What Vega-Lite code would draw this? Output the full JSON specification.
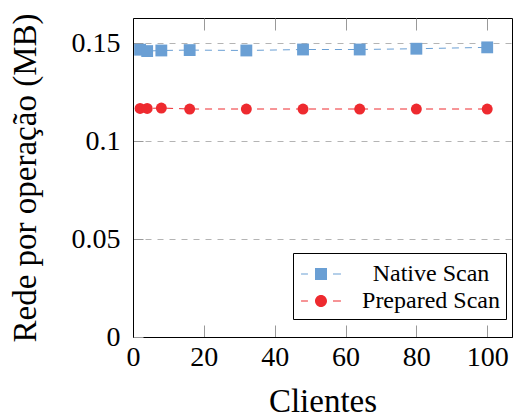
{
  "$schema": "https://vega.github.io/schema/vega-lite/v6.json",
  "width": 379,
  "height": 319,
  "autosize": {"type": "none"},
  "padding": {"left": 133, "top": 18, "right": 1, "bottom": 80},
  "background": "white",
  "config": {
    "view": {"stroke": "black", "strokeWidth": 1},
    "font": "Liberation Serif",
    "legend": {
      "orient": "none",
      "legendX": 160,
      "legendY": 235,
      "labelFont": "Liberation Serif",
      "labelFontSize": 24,
      "labelColor": "black",
      "labelAlign": "center",
      "padding": 6,
      "strokeColor": "black",
      "fillColor": "white",
      "symbolSize": 900,
      "symbolOffset": 7,
      "labelOffset": 95,
      "rowPadding": 0
    }
  },
  "data": {
    "values": [
      {"clients": 2, "series": "Native Scan", "value": 0.1468},
      {"clients": 4, "series": "Native Scan", "value": 0.1461},
      {"clients": 8, "series": "Native Scan", "value": 0.1464},
      {"clients": 16, "series": "Native Scan", "value": 0.1466},
      {"clients": 32, "series": "Native Scan", "value": 0.1464},
      {"clients": 48, "series": "Native Scan", "value": 0.1469},
      {"clients": 64, "series": "Native Scan", "value": 0.1469},
      {"clients": 80, "series": "Native Scan", "value": 0.1473},
      {"clients": 100, "series": "Native Scan", "value": 0.148},
      {"clients": 2, "series": "Prepared Scan", "value": 0.1168},
      {"clients": 4, "series": "Prepared Scan", "value": 0.1168},
      {"clients": 8, "series": "Prepared Scan", "value": 0.117},
      {"clients": 16, "series": "Prepared Scan", "value": 0.1165},
      {"clients": 32, "series": "Prepared Scan", "value": 0.1165},
      {"clients": 48, "series": "Prepared Scan", "value": 0.1165},
      {"clients": 64, "series": "Prepared Scan", "value": 0.1165},
      {"clients": 80, "series": "Prepared Scan", "value": 0.1165},
      {"clients": 100, "series": "Prepared Scan", "value": 0.1165}
    ]
  },
  "encoding": {
    "y": {
      "field": "value",
      "type": "quantitative",
      "scale": {"domain": [0, 0.163], "nice": false, "zero": false},
      "axis": {
        "title": "Rede por operação (MB)",
        "values": [0, 0.05, 0.1, 0.15],
        "format": "~g",
        "labelFlush": false,
        "grid": true,
        "gridDash": [6, 6],
        "gridColor": "#b4b4b4",
        "gridWidth": 1,
        "tickSize": -10,
        "tickColor": "#999999",
        "labelPadding": 23,
        "labelFontSize": 28,
        "labelColor": "black",
        "labelFont": "Liberation Serif",
        "titleFont": "Liberation Serif",
        "titleFontSize": 33,
        "titleFontWeight": "normal",
        "titleColor": "black",
        "titlePadding": 29,
        "domainColor": "black"
      }
    },
    "color": {
      "field": "series",
      "type": "nominal",
      "scale": {"domain": ["Native Scan", "Prepared Scan"], "range": ["#6a9fd4", "#ee2a2f"]},
      "legend": {
        "title": null,
        "encode": {
          "symbols": {
            "update": {
              "shape": {"signal": "datum.value == 'Native Scan' ? 'M-1.33,-0.04L-0.87,-0.04L-0.87,0.04L-1.33,0.04Z M-0.4,-0.4L0.4,-0.4L0.4,0.4L-0.4,0.4Z M0.8,-0.04L1.33,-0.04L1.33,0.04L0.8,0.04Z' : 'M-1.33,-0.04L-0.87,-0.04L-0.87,0.04L-1.33,0.04Z M0.4,0A0.4,0.4,0,1,1,-0.4,0A0.4,0.4,0,1,1,0.4,0Z M0.8,-0.04L1.33,-0.04L1.33,0.04L0.8,0.04Z'"},
              "fill": {"scale": "color", "field": "value"},
              "stroke": {"value": "transparent"},
              "strokeWidth": {"value": 0},
              "opacity": {"value": 1},
              "fillOpacity": {"value": 1}
            }
          }
        }
      }
    }
  },
  "layer": [
    {
      "mark": {"type": "line", "strokeWidth": 1, "strokeDash": [7, 6]},
      "encoding": {
        "x": {
          "field": "clients",
          "type": "quantitative",
          "scale": {"domain": [0, 107], "nice": false},
          "axis": {
            "title": "Clientes",
            "values": [0, 20, 40, 60, 80, 100],
            "labelFlush": false,
            "grid": false,
            "tickSize": -12,
            "tickColor": "#999999",
            "labelPadding": 18,
            "labelFontSize": 28,
            "labelColor": "black",
            "labelFont": "Liberation Serif",
            "titleFont": "Liberation Serif",
            "titleFontSize": 33,
            "titleFontWeight": "normal",
            "titleColor": "black",
            "titlePadding": 14,
            "domainColor": "black"
          }
        }
      }
    },
    {
      "transform": [{"filter": "datum.series == 'Native Scan'"}],
      "mark": {"type": "point", "filled": true, "opacity": 1, "shape": "square", "size": 140},
      "encoding": {
        "x": {"field": "clients", "type": "quantitative", "scale": {"domain": [0, 107], "nice": false}, "axis": null}
      }
    },
    {
      "transform": [{"filter": "datum.series == 'Prepared Scan'"}],
      "mark": {"type": "point", "filled": true, "opacity": 1, "shape": "circle", "size": 120},
      "encoding": {
        "x": {"field": "clients", "type": "quantitative", "scale": {"domain": [0, 107], "nice": false}, "axis": null}
      }
    },
    {
      "mark": {"type": "point", "opacity": 0},
      "encoding": {
        "x": {
          "field": "clients",
          "type": "quantitative",
          "scale": {"domain": [0, 107], "nice": false},
          "axis": {
            "orient": "top",
            "title": null,
            "labels": false,
            "domain": false,
            "grid": false,
            "values": [0, 20, 40, 60, 80, 100],
            "tickSize": -12,
            "tickColor": "#999999"
          }
        }
      }
    }
  ],
  "resolve": {"axis": {"x": "independent"}}
}
